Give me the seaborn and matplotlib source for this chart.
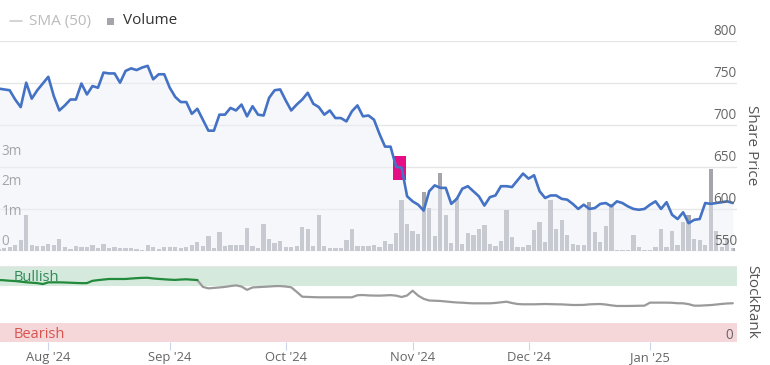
import numpy as np
import pandas as pd
import matplotlib
matplotlib.use("Agg")
import matplotlib.pyplot as plt
import matplotlib.transforms as mtransforms
from matplotlib.patches import Rectangle
from matplotlib.lines import Line2D
import seaborn as sns

# ---------------- data ----------------
dates = pd.bdate_range("2024-07-19", "2025-01-22")

price = [743, 742, 741, 730, 721, 750, 731, 741, 749,
         757, 734, 717, 723, 730, 730, 749, 736, 746, 744,
         762, 761, 761, 750, 764, 767, 765, 768, 770, 754,
         760, 760, 744, 733, 727, 727, 713, 719, 706, 693,
         693, 712, 712, 720, 717, 724, 710, 722, 712, 711,
         732, 741, 742, 729, 717, 724, 730, 738, 725, 721,
         712, 717, 708, 708, 704, 716, 723, 710, 711, 706,
         689, 674, 674, 650, 649, 615, 609, 605, 598, 621,
         628, 625, 625, 606, 612, 624, 627, 621, 615, 604,
         614, 616, 627, 627, 626, 634, 642, 636, 640, 621,
         613, 616, 616, 612, 611, 606, 600, 605, 600, 601,
         606, 607, 603, 609, 607, 603, 600, 599, 600, 605,
         609, 600, 608, 593, 588, 596, 583, 587, 588, 607,
         606, 607, 608, 609, 607]

volume_m = [0.08, 0.1, 0.12, 0.2, 0.37, 1.2, 0.2, 0.17, 0.17,
            0.23, 0.2, 0.41, 0.14, 0.07, 0.17, 0.12, 0.13, 0.2, 0.11,
            0.24, 0.09, 0.12, 0.11, 0.11, 0.1, 0.07, 0.03, 0.2, 0.14,
            0.07, 0.14, 0.14, 0.12, 0.11, 0.14, 0.2, 0.29, 0.17, 0.5,
            0.11, 0.62, 0.17, 0.2, 0.2, 0.2, 0.76, 0.17, 0.09, 0.9,
            0.4, 0.28, 0.33, 0.12, 0.12, 0.17, 0.79, 0.73, 0.17, 1.2,
            0.17, 0.11, 0.11, 0.11, 0.37, 0.73, 0.17, 0.16, 0.17, 0.2,
            0.12, 0.33, 0.23, 0.61, 1.7, 0.9, 0.67, 0.57, 1.96, 1.42,
            0.5, 2.59, 1.2, 0.28, 1.76, 0.23, 0.61, 0.53, 0.73, 0.87,
            0.23, 0.17, 0.33, 1.37, 0.46, 0.15, 0.15, 0.2, 0.7, 0.96,
            0.29, 1.7, 0.75, 1.03, 0.53, 0.23, 0.2, 0.2, 1.62, 0.62,
            0.29, 0.83, 1.58, 0.03, 0.03, 0.03, 0.53, 0.12, 0.03, 0.03,
            0.15, 0.75, 0.12, 0.67, 0.2, 0.97, 1.2, 0.41, 0.37, 0.2,
            2.75, 0.67, 0.15, 0.42, 0.1]

stock_rank = [81.6, 81.2, 80.6, 80.2, 79.4, 78.6, 78, 77.5, 76.2,
              78.5, 78.5, 78.5, 78.3, 78, 77.7, 77.4, 77.5, 80.5, 81.4,
              82.2, 82.9, 82.9, 82.9, 82.9, 83.5, 84, 84.4, 84.5, 83.6,
              83, 82.5, 82, 81.7, 82.2, 82.5, 82, 81.5, 72.5, 70.6,
              71.2, 71.8, 72.5, 73.6, 74.5, 73, 68.6, 71.8, 72.2, 72.6,
              73, 73.5, 73.6, 73, 72, 66, 59.6, 59.3, 59, 58.8,
              58.8, 58.8, 58.8, 58.8, 58.8, 58.8, 61.5, 61.8, 61.3, 61.1,
              61, 61.3, 61.7, 61, 59.2, 61.2, 67.5, 61, 56.8, 54.6,
              54.3, 54, 53.3, 52.6, 52, 51.7, 51.2, 50.9, 50.9, 50.9,
              50.9, 51.4, 52.2, 53, 51.3, 50, 49.6, 49.6, 49.6, 49.8,
              50, 49.8, 49.6, 49.5, 49.1, 48.7, 48.7, 48.8, 49.5, 49.8,
              50, 49.3, 48.2, 47.4, 47.4, 47.4, 47.5, 47.7, 47.8, 51.8,
              51.8, 51.8, 51.8, 51.6, 51, 50.9, 49.8, 47.8, 47.8, 48.2,
              48.6, 49.3, 50.1, 50.7, 51]

price_ticks = [550, 600, 650, 700, 750, 800]
volume_ticks = [0, 1, 2, 3]
volume_tick_labels = ["0", "1m", "2m", "3m"]
bullish_level = 75
bearish_level = 25
event_pos = (71.5, 73.75)      # highlighted event (positions on the ordinal axis)
event_price = (634, 663)       # price range of the highlighted event

# ---------------- styling ----------------
sns.set_style("white")
plt.rcParams["font.family"] = ["Open Sans", "DejaVu Sans"]

W, H = 770, 365
fig = plt.figure(figsize=(W / 100, H / 100), dpi=100)


def rect(x0, y0, x1, y1):
    return [x0 / W, 1 - y1 / H, (x1 - x0) / W, (y1 - y0) / H]


pos = np.arange(len(dates))
df = pd.DataFrame({"pos": pos, "price": price, "volume": volume_m,
                   "rank": stock_rank})
xlim = (0.25, 133.76)

# ---------- top panel: volume + price ----------
ax_v = fig.add_axes(rect(0, 40.6, 737, 251))
ax_p = ax_v.twinx()

gtr = mtransforms.blended_transform_factory(ax_v.transAxes, ax_p.transData)
for t in price_ticks:
    ax_v.add_line(Line2D([0, 1], [t, t], transform=gtr, color="#e6e6e6",
                         lw=1.0, zorder=0))

sns.barplot(data=df, x="pos", y="volume", native_scale=True, color="#a3a5ab",
            saturation=1, width=0.78, errorbar=None, linewidth=0, ax=ax_v,
            zorder=1)
ax_v.set_ylim(0, 210.4 / 30)
ax_v.set_xlim(*xlim)

ax_p.fill_between(pos, price, 550, color="#eef0f8", alpha=0.5, lw=0, zorder=1)
ax_p.add_patch(Rectangle((event_pos[0], event_price[0]),
                         event_pos[1] - event_pos[0],
                         event_price[1] - event_price[0],
                         facecolor="#e5007e", edgecolor="none", alpha=0.95,
                         zorder=2))
sns.lineplot(data=df, x="pos", y="price", ax=ax_p, color="#4472c4", lw=1.9,
             zorder=3)
ax_p.set_ylim(550, 800)
ax_p.set_xlim(*xlim)

for a in (ax_v, ax_p):
    for s in a.spines.values():
        s.set_visible(False)
    a.set_xticks([])
    a.set_yticks([])
    a.set_xlabel("")
    a.set_ylabel("")

lab_color = "#666666"
fs = 9.8
ptr = mtransforms.blended_transform_factory(ax_p.transAxes, ax_p.transData)
for t in price_ticks:
    ax_p.annotate(str(t), xy=(1.0, t), xycoords=ptr, xytext=(0, 1.2),
                  textcoords="offset points", ha="right", va="bottom",
                  fontsize=fs, color=lab_color, zorder=5)
vtr = mtransforms.blended_transform_factory(ax_v.transAxes, ax_v.transData)
for t, l in zip(volume_ticks, volume_tick_labels):
    ax_v.annotate(l, xy=(0.002, t), xycoords=vtr, xytext=(0, 1.2),
                  textcoords="offset points", ha="left", va="bottom",
                  fontsize=fs, color="#5a5a5a", zorder=5)

# ---------- bottom panel: StockRank ----------
ax_r = fig.add_axes(rect(0, 266, 737, 342))
ax_r.axhspan(bullish_level - 1, 100, color="#d5e9dc", lw=0, zorder=0)
ax_r.axhspan(0, bearish_level, color="#f5d7da", lw=0, zorder=0)
ax_r.axhline(100, color="#e6e6e6", lw=1.0, zorder=1)

split = next(i for i, v in enumerate(stock_rank) if v < bullish_level)
sns.lineplot(data=df.iloc[split - 1:], x="pos", y="rank", ax=ax_r,
             color="#9a9a9a", lw=1.6, zorder=2)
sns.lineplot(data=df.iloc[:split], x="pos", y="rank", ax=ax_r,
             color="#218a3b", lw=1.6, zorder=3)
ax_r.set_ylim(0, 100)
ax_r.set_xlim(*xlim)
for s in ax_r.spines.values():
    s.set_visible(False)
ax_r.set_xlabel("")
ax_r.set_ylabel("")
ax_r.set_yticks([])

month_start = [i for i in range(1, len(dates))
               if dates[i].month != dates[i - 1].month]
ax_r.set_xticks(month_start)
ax_r.set_xticklabels([dates[i].strftime("%b '%y") for i in month_start],
                     fontsize=9.4, color=lab_color)
ax_r.tick_params(axis="x", direction="out", length=5.8, width=0.8,
                 color="#ccd6eb", pad=0.5, bottom=True)

rtr = mtransforms.blended_transform_factory(ax_r.transAxes, ax_r.transData)
ax_r.text(14 / 737, 85.5, "Bullish", transform=rtr, ha="left", va="center",
          fontsize=10.5, color="#2e8b57", zorder=4)
ax_r.text(14 / 737, 10.5, "Bearish", transform=rtr, ha="left", va="center",
          fontsize=10.5, color="#d9534f", zorder=4)
ax_r.text(0.995, 9, "0", transform=rtr, ha="right", va="center", fontsize=fs,
          color=lab_color, zorder=4)

# ---------- axis titles and legend ----------
fig.text(752 / W, 1 - 145 / H, "Share Price", rotation=-90, ha="center",
         va="center", fontsize=11, color="#555555")
fig.text(752 / W, 1 - 302 / H, "StockRank", rotation=-90, ha="center",
         va="center", fontsize=11, color="#555555")

fig.add_artist(Line2D([10 / W, 22 / W], [1 - 21 / H, 1 - 21 / H],
                      color="#cccccc", lw=1.2))
fig.text(29 / W, 1 - 21 / H, "SMA (50)", ha="left", va="center", fontsize=11,
         color="#bbbbbb")
fig.add_artist(Rectangle((107 / W, 1 - 25 / H), 7 / W, 7 / H,
                         transform=fig.transFigure, facecolor="#a3a5ab",
                         edgecolor="none"))
fig.text(123 / W, 1 - 21 / H, "Volume", ha="left", va="center", fontsize=11,
         color="#333333")

fig.savefig("out.png", dpi=100)
